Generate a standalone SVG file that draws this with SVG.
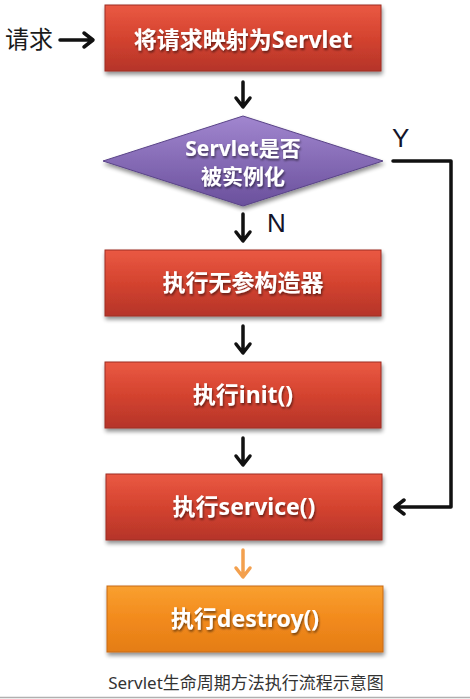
<svg xmlns="http://www.w3.org/2000/svg" width="470" height="699" viewBox="0 0 470 699">
<defs>
<linearGradient id="gRed" x1="0" y1="0" x2="0" y2="1">
<stop offset="0" stop-color="#ea5943"/>
<stop offset="0.5" stop-color="#d4432f"/>
<stop offset="1" stop-color="#b5342a"/>
</linearGradient>
<linearGradient id="gOrange" x1="0" y1="0" x2="0" y2="1">
<stop offset="0" stop-color="#f9a030"/>
<stop offset="0.5" stop-color="#f28a1c"/>
<stop offset="1" stop-color="#e47d16"/>
</linearGradient>
<linearGradient id="gPurple" x1="0" y1="0" x2="0" y2="1">
<stop offset="0" stop-color="#a186cf"/>
<stop offset="1" stop-color="#6a509c"/>
</linearGradient>
<filter id="shadow" x="-10%" y="-10%" width="120%" height="140%">
<feGaussianBlur in="SourceAlpha" stdDeviation="2"/>
<feOffset dx="1" dy="3" result="b"/>
<feComponentTransfer><feFuncA type="linear" slope="0.45"/></feComponentTransfer>
<feMerge><feMergeNode/><feMergeNode in="SourceGraphic"/></feMerge>
</filter>
<filter id="tshadow" x="-10%" y="-20%" width="120%" height="150%">
<feGaussianBlur in="SourceAlpha" stdDeviation="0.8"/>
<feOffset dx="1" dy="1.5"/>
<feComponentTransfer><feFuncA type="linear" slope="0.5"/></feComponentTransfer>
<feMerge><feMergeNode/><feMergeNode in="SourceGraphic"/></feMerge>
</filter>
</defs>
<style>
.box { fill: url(#gRed); stroke: #9e2e24; stroke-width: 1; filter: url(#shadow); }
.obox { fill: url(#gOrange); stroke: #c86a12; stroke-width: 1; filter: url(#shadow); }
.dia { fill: url(#gPurple); stroke: #5a4488; stroke-width: 1; filter: url(#shadow); }
.lbl { font-family: "Noto Sans", "Noto Sans CJK SC", sans-serif; font-weight: bold; font-size: 23px; fill: #ffffff; text-anchor: middle; filter: url(#tshadow); }
.dlbl { font-family: "Noto Sans", "Noto Sans CJK SC", sans-serif; font-weight: bold; font-size: 21px; fill: #ffffff; text-anchor: middle; filter: url(#tshadow); }
.plain { font-family: "Noto Sans CJK SC", sans-serif; font-size: 24px; fill: #1a1a1a; }
.yn { font-family: "Liberation Sans", Arial, sans-serif; font-size: 26px; fill: #14142a; }
.cap { font-family: "Noto Sans", "Noto Sans CJK SC", sans-serif; font-size: 17px; fill: #333333; text-anchor: middle; }
.arr { stroke: #111111; stroke-width: 3.5; fill: none; stroke-linecap: round; stroke-linejoin: round; }
.oarr { stroke: #f3a04e; stroke-width: 3.5; fill: none; stroke-linecap: round; stroke-linejoin: round; }
</style>
<rect width="470" height="699" fill="#ffffff"/>
<line x1="0" y1="697.5" x2="470" y2="697.5" stroke="#b0b0b0" stroke-width="1.5"/>

<g id="connectors">
<g id="c-request">
<path class="arr" d="M60 40 H92 M84 33 L93 40 L84 47"/>
</g>
<g id="c-1">
<path class="arr" d="M243 82 V106 M236 98 L243 107 L250 98"/>
</g>
<g id="c-N">
<path class="arr" d="M243 214 V240 M236 232 L243 241 L250 232"/>
</g>
<g id="c-2">
<path class="arr" d="M243 326 V352 M236 344 L243 353 L250 344"/>
</g>
<g id="c-3">
<path class="arr" d="M243 438 V464 M236 456 L243 465 L250 456"/>
</g>
<g id="c-Y">
<path class="arr" d="M393 161 H451 V507 H396 M404 500 L395 507 L404 514"/>
</g>
<g id="c-4">
<path class="oarr" d="M243 550 V576 M236 568 L243 577 L250 568"/>
</g>
</g>

<g id="label-request"><text class="plain" x="5" y="48">请求</text></g>

<g id="node-map">
<rect class="box" x="105" y="5" width="276" height="66"/>
<text class="lbl" x="243" y="48">将请求映射为Servlet</text>
</g>

<g id="node-decision">
<polygon class="dia" points="243,116 383,161 243,206 103,161"/>
<text class="dlbl" x="243" y="156">Servlet是否</text>
<text class="dlbl" x="243" y="184">被实例化</text>
</g>
<g id="label-Y"><text class="yn" x="392" y="147">Y</text></g>
<g id="label-N"><text class="yn" x="267" y="232">N</text></g>

<g id="node-ctor">
<rect class="box" x="105" y="250" width="276" height="66"/>
<text class="lbl" x="243" y="291">执行无参构造器</text>
</g>

<g id="node-init">
<rect class="box" x="105" y="362" width="276" height="66"/>
<text class="lbl" x="243" y="403">执行init()</text>
</g>

<g id="node-service">
<rect class="box" x="106" y="474" width="276" height="66"/>
<text class="lbl" x="244" y="515">执行service()</text>
</g>

<g id="node-destroy">
<rect class="obox" x="107" y="586" width="276" height="66"/>
<text class="lbl" x="245" y="627">执行destroy()</text>
</g>

<g id="caption"><text class="cap" x="246" y="689">Servlet生命周期方法执行流程示意图</text></g>
</svg>
